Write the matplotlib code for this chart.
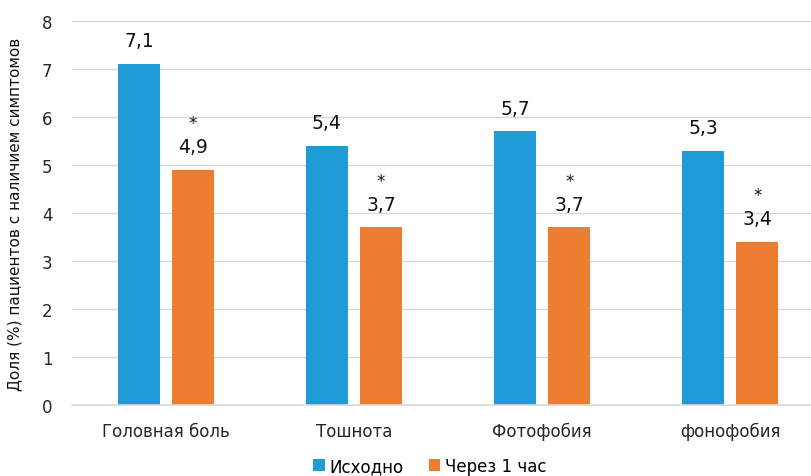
import matplotlib
matplotlib.use('Agg')
from matplotlib import pyplot as plt
import numpy as np

# Данные
categories = ['Головная боль', 'Тошнота', 'Фотофобия', 'фонофобия']
baseline = [7.1, 5.4, 5.7, 5.3]
after_1h = [4.9, 3.7, 3.7, 3.4]
series_names = ['Исходно', 'Через 1 час']

blue = '#1F9BD7'
orange = '#ED7D31'

plt.rcParams['font.family'] = ['DejaVu Sans']

fig = plt.figure(figsize=(8.11, 4.77), dpi=100)
ax = fig.add_axes([72 / 811, 1 - 406 / 477, (811 - 72) / 811, (406 - 22) / 477])

x = np.arange(len(categories))
w = 0.223
off = 0.144
b1 = ax.bar(x - off, baseline, w, color=blue, label=series_names[0], zorder=2)
b2 = ax.bar(x + off, after_1h, w, color=orange, label=series_names[1], zorder=2)

# Подписи значений
for xi, v in zip(x - off, baseline):
    ax.annotate(f'{v:.1f}'.replace('.', ','), (xi, v), xytext=(0, 10), textcoords='offset points',
                ha='center', va='bottom', fontsize=13.5, color='#111111')
for xi, v in zip(x + off, after_1h):
    ax.annotate(f'{v:.1f}'.replace('.', ','), (xi, v), xytext=(0, 10), textcoords='offset points',
                ha='center', va='bottom', fontsize=13.5, color='#111111')
    ax.annotate('*', (xi, v), xytext=(0, 27), textcoords='offset points',
                ha='center', va='bottom', fontsize=12, color='#111111')

ax.set_ylim(0, 8)
ax.set_xlim(-0.5, 3.43)
ax.set_yticks(range(0, 9))
ax.yaxis.grid(True, color='#d9d9d9', linewidth=1, zorder=0)
ax.set_axisbelow(True)
for s in ['top', 'right', 'left']:
    ax.spines[s].set_visible(False)
ax.spines['bottom'].set_color('#d9d9d9')
ax.spines['bottom'].set_linewidth(1.2)
ax.tick_params(axis='both', length=0, labelsize=12, colors='#262626')
ax.tick_params(axis='y', pad=14)
ax.tick_params(axis='x', pad=12)
ax.set_xticks(x)
ax.set_xticklabels(categories)
ax.set_ylabel('Доля (%) пациентов с наличием симптомов', fontsize=11, color='#111111', labelpad=14)

fig.legend(handles=[b1, b2], loc='center', bbox_to_anchor=(430 / 811, 1 - 467 / 477), ncol=2,
           frameon=False, fontsize=12, handlelength=0.7, handleheight=0.7, handletextpad=0.3,
           columnspacing=1.5)

fig.savefig('out.png', dpi=100)
